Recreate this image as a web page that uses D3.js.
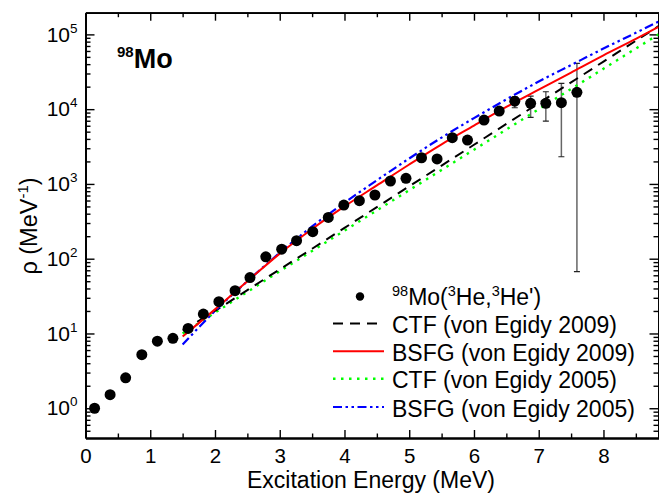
<!DOCTYPE html>
<html>
<head>
<meta charset="utf-8">
<script src="https://cdn.jsdelivr.net/npm/d3@7"></script>
<style>
  body { margin: 0; background: #fff; }
  svg text { font-family: "Liberation Sans", Arial, sans-serif; fill: #000; }
</style>
</head>
<body>
<svg id="chart" width="659" height="494"></svg>
<script>
// measured level density, 98Mo(3He,3He')
const energy = [0.14, 0.38, 0.62, 0.87, 1.11, 1.35, 1.585, 1.82, 2.06, 2.31, 2.54, 2.785, 3.03, 3.26,
                3.51, 3.75, 3.99, 4.23, 4.47, 4.71, 4.95, 5.19, 5.43, 5.665, 5.90, 6.155, 6.39, 6.63,
                6.875, 7.11, 7.35, 7.59];
const rho = [1.0, 1.52, 2.55, 5.2, 7.9, 8.6, 11.7, 18.2, 26.6, 37.3, 56, 106, 134, 174,
             230, 357, 522, 596, 711, 1094, 1188, 2240, 2160, 4150, 3860, 7150, 9440, 12800,
             11960, 11960, 12200, 16800];
// error bars (only visible ones)
const errEnergy = [6.63, 6.875, 7.11, 7.35, 7.59];
const errLow  = [10450, 7770, 6930, 2310, 67];
const errHigh = [14650, 14960, 17100, 22100, 40900];

// model curves
const curveE   = [1.5, 2.0, 2.5, 3.0, 3.5, 4.0, 4.5, 5.0, 5.5, 6.0, 6.5, 7.0, 7.5, 8.0, 8.5, 8.85];
const ctf2009  = [11, 20, 38, 72, 136, 258, 490, 930, 1760, 3340, 6340, 12000, 22800, 43300, 82000, 129000];
const bsfg2009 = [9.1, 21, 50, 117, 250, 500, 955, 1820, 3390, 6030, 10700, 18200, 30900, 52500, 87100, 126000];
const ctf2005  = [10, 19, 36, 68, 127, 237, 442, 825, 1540, 2870, 5350, 10000, 18600, 34700, 64700, 100000];
const bsfg2005 = [7.1, 20, 50, 120, 270, 560, 1120, 2190, 4170, 7590, 13500, 23400, 38900, 64600, 105000, 148000];

const xTicks = [0, 1, 2, 3, 4, 5, 6, 7, 8];
const yExps = [0, 1, 2, 3, 4, 5];

const plot = {left: 85.5, right: 658.5, top: 12.7, bottom: 438};
const font = '"Liberation Sans", Arial, sans-serif';

const svg = d3.select("#chart");

const x = d3.scaleLinear().domain([0, 8.85]).range([plot.left, plot.right]);
const y = d3.scaleLog().domain([0.4, 1.95e5]).range([plot.bottom, plot.top]);

// minor tick values
const xMinor = d3.range(0.5, 8.85, 1);
let yMinor = [];
for (let e = -1; e <= 5; e++) {
  for (let m = 2; m <= 9; m++) {
    let v = m * Math.pow(10, e);
    if (v > 0.4 && v < 1.95e5) yMinor.push(v);
  }
}
const yMajor = yExps.map(e => Math.pow(10, e));

function styleAxis(g) {
  g.select(".domain").attr("stroke", "#000").attr("stroke-width", 1.8);
  g.selectAll(".tick line").attr("stroke", "#000").attr("stroke-width", 1.4);
}

// bottom
svg.append("g").attr("transform", `translate(0,${plot.bottom})`)
  .call(d3.axisBottom(x).tickValues(xMinor).tickSize(-4.5).tickSizeOuter(0).tickFormat(""))
  .call(styleAxis);
let gx = svg.append("g").attr("transform", `translate(0,${plot.bottom})`)
  .call(d3.axisBottom(x).tickValues(xTicks).tickSize(-8).tickSizeOuter(0).tickPadding(10).tickFormat(d3.format("d")))
  .call(styleAxis);
gx.selectAll(".tick text").attr("font-size", 20.5).attr("font-family", font).attr("fill", "#000");

// top
svg.append("g").attr("transform", `translate(0,${plot.top})`)
  .call(d3.axisTop(x).tickValues(xMinor).tickSize(-4.5).tickSizeOuter(0).tickFormat(""))
  .call(styleAxis);
svg.append("g").attr("transform", `translate(0,${plot.top})`)
  .call(d3.axisTop(x).tickValues(xTicks).tickSize(-8).tickSizeOuter(0).tickFormat(""))
  .call(styleAxis);

// left
svg.append("g").attr("transform", `translate(${plot.left},0)`)
  .call(d3.axisLeft(y).tickValues(yMinor).tickSize(-5).tickSizeOuter(0).tickFormat(""))
  .call(styleAxis);
let gy = svg.append("g").attr("transform", `translate(${plot.left},0)`)
  .call(d3.axisLeft(y).tickValues(yMajor).tickSize(-9).tickSizeOuter(0).tickPadding(8).tickFormat(""))
  .call(styleAxis);
gy.selectAll(".tick text")
  .attr("font-family", font).attr("fill", "#000").attr("font-size", 21)
  .each(function (d) {
    let t = d3.select(this);
    t.append("tspan").text("10");
    t.append("tspan").attr("font-size", 13.5).attr("dy", -9).text(Math.round(Math.log10(d)));
  });

// right
svg.append("g").attr("transform", `translate(${plot.right},0)`)
  .call(d3.axisRight(y).tickValues(yMinor).tickSize(-5).tickSizeOuter(0).tickFormat(""))
  .call(styleAxis);
svg.append("g").attr("transform", `translate(${plot.right},0)`)
  .call(d3.axisRight(y).tickValues(yMajor).tickSize(-9).tickSizeOuter(0).tickFormat(""))
  .call(styleAxis);

// axis titles
svg.append("text").attr("x", (plot.left + plot.right) / 2 - 1).attr("y", 488)
  .attr("text-anchor", "middle").attr("font-size", 23).text("Excitation Energy (MeV)");

let yt = svg.append("text").attr("transform", "translate(37,226) rotate(-90)")
  .attr("text-anchor", "middle").attr("font-size", 23.5);
yt.append("tspan").text("\u03C1 (MeV");
yt.append("tspan").attr("font-size", 15).attr("dy", -9).text("-1");
yt.append("tspan").attr("dy", 9).text(")");

// clip
svg.append("clipPath").attr("id", "clip").append("rect")
  .attr("x", plot.left).attr("y", plot.top)
  .attr("width", plot.right - plot.left).attr("height", plot.bottom - plot.top);

const body = svg.append("g").attr("clip-path", "url(#clip)");

// error bars
errEnergy.forEach((e, i) => {
  let g = body.append("g").attr("stroke", "#666").attr("stroke-width", 1.5);
  g.append("line").attr("x1", x(e)).attr("x2", x(e)).attr("y1", y(errLow[i])).attr("y2", y(errHigh[i]));
  [errLow[i], errHigh[i]].forEach(v => {
    g.append("line").attr("x1", x(e) - 3).attr("x2", x(e) + 3).attr("y1", y(v)).attr("y2", y(v))
      .attr("stroke", "#222").attr("stroke-width", 1.2);
  });
});

// curves
const series = [
  {name: "CTF (von Egidy 2005)", vals: ctf2005, color: "#00ff00", dash: "2.5,5.5", width: 2.4},
  {name: "CTF (von Egidy 2009)", vals: ctf2009, color: "#000000", dash: "10,7", width: 2},
  {name: "BSFG (von Egidy 2005)", vals: bsfg2005, color: "#0000ff", dash: "9,3.5,2.5,3.5,2.5,3.5", width: 2.2},
  {name: "BSFG (von Egidy 2009)", vals: bsfg2009, color: "#ff0000", dash: null, width: 2}
];
const line = d3.line().x(d => x(d[0])).y(d => y(d[1])).curve(d3.curveMonotoneX);
series.forEach(s => {
  body.append("path")
    .datum(curveE.map((e, i) => [e, s.vals[i]]))
    .attr("d", line)
    .attr("fill", "none")
    .attr("stroke", s.color)
    .attr("stroke-width", s.width)
    .attr("stroke-dasharray", s.dash);
});

// data points
body.selectAll("circle.pt")
  .data(energy.map((e, i) => [e, rho[i]]))
  .enter().append("circle")
  .attr("class", "pt")
  .attr("cx", d => x(d[0]))
  .attr("cy", d => y(d[1]))
  .attr("r", 5.5)
  .attr("fill", "#000");

// nucleus label
let lab = svg.append("text").attr("x", 117).attr("y", 68).attr("font-weight", "bold");
lab.append("tspan").attr("font-size", 15).attr("dy", -11).text("98");
lab.append("tspan").attr("font-size", 27).attr("dy", 11).text("Mo");

// legend
const leg = svg.append("g");
const rowY = [305, 333, 360.7, 388.3, 416.5];
leg.append("circle").attr("cx", 360).attr("cy", rowY[0] - 8.5).attr("r", 4.2).attr("fill", "#000");
let t0 = leg.append("text").attr("x", 392).attr("y", rowY[0]).attr("font-size", 23);
t0.append("tspan").attr("font-size", 14.5).attr("dy", -9).text("98");
t0.append("tspan").attr("dy", 9).text("Mo(");
t0.append("tspan").attr("font-size", 14.5).attr("dy", -9).text("3");
t0.append("tspan").attr("dy", 9).text("He,");
t0.append("tspan").attr("font-size", 14.5).attr("dy", -9).text("3");
t0.append("tspan").attr("dy", 9).text("He')");

const legOrder = [series[1], series[3], series[0], series[2]];
legOrder.forEach((s, i) => {
  let yy = rowY[i + 1];
  leg.append("line").attr("x1", 333).attr("x2", 384).attr("y1", yy - 9.5).attr("y2", yy - 9.5)
    .attr("stroke", s.color).attr("stroke-width", s.width).attr("stroke-dasharray", s.dash);
  leg.append("text").attr("x", 392).attr("y", yy).attr("font-size", 23).text(s.name);
});
</script>
</body>
</html>
